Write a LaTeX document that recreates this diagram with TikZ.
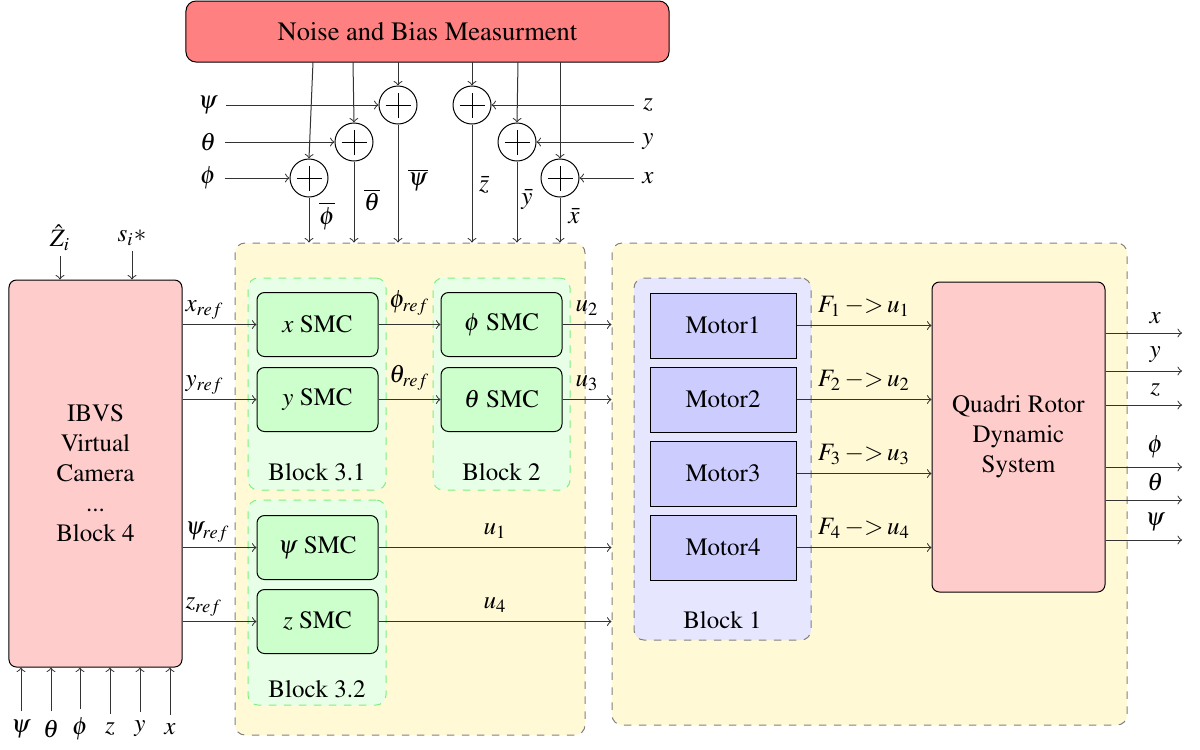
\documentclass[tikz,border=0pt]{standalone}
\usepackage[T1]{fontenc}
\usepackage{mathptmx}
\usetikzlibrary{calc}
\definecolor{bgyel}{RGB}{255,249,214}
\definecolor{noisered}{RGB}{255,128,128}
\definecolor{pinkbox}{RGB}{255,204,204}
\definecolor{smcgreen}{RGB}{204,255,204}
\definecolor{greenbg}{RGB}{230,255,230}
\definecolor{greenborder}{RGB}{128,240,128}
\definecolor{bluebg}{RGB}{230,230,255}
\definecolor{motorblue}{RGB}{204,204,255}
\tikzset{
  smc/.style={draw, rounded corners=3pt, fill=smcgreen, minimum width=48.4pt, minimum height=25.6pt, inner sep=0pt},
  motor/.style={draw, fill=motorblue, minimum width=58.4pt, minimum height=26pt, inner sep=0pt},
  sumc/.style={draw, circle, minimum size=15.2pt, inner sep=0pt,
    path picture={
      \draw ([xshift=-5pt]path picture bounding box.center) -- ([xshift=5pt]path picture bounding box.center);
      \draw ([yshift=-5pt]path picture bounding box.center) -- ([yshift=5pt]path picture bounding box.center);}},
  bgyellow/.style={draw=gray, dashed, fill=bgyel, rounded corners=4pt, inner sep=0pt},
  greenbox/.style={draw=greenborder, dashed, fill=greenbg, rounded corners=4pt, inner sep=0pt},
  bluebox/.style={draw=gray, dashed, fill=bluebg, rounded corners=4pt, inner sep=0pt},
  bigbox/.style={draw, fill=pinkbox, rounded corners=3pt, align=center, inner sep=0pt},
  conn/.style={->, draw=black!80},
}
\begin{document}
\begin{tikzpicture}[x=0.4pt,y=-0.4pt,>=to]
\useasboundingbox (0,0) rectangle (1200,749);

% background containers
\node[bgyellow, minimum width=140pt, minimum height=196.8pt] (yel1) at (410,489) {};
\node[bgyellow, minimum width=206pt, minimum height=192.8pt] (yel2) at (869.5,484) {};
\node[greenbox, minimum width=55.2pt, minimum height=84.8pt] (b31) at (317,384) {};
\node[greenbox, minimum width=54.8pt, minimum height=84.8pt] (b2) at (501.5,384) {};
\node[greenbox, minimum width=55.2pt, minimum height=82pt] (b32) at (317,602.5) {};
\node[bluebox, minimum width=70.8pt, minimum height=144.8pt] (b1) at (722.5,459) {};
\node (lb31) at (317,472) {Block 3.1};
\node (lb2) at (501.5,472) {Block 2};
\node (lb32) at (317,689) {Block 3.2};
\node (lb1) at (722.5,620) {Block 1};

% noise block
\node[draw, fill=noisered, rounded corners=4pt, minimum width=193.2pt, minimum height=24.4pt, font=\fontsize{10.6}{13}\selectfont] (noise) at (427.5,31.5) {Noise and Bias Measurment};
\coordinate (n1) at (313,62);
\coordinate (n2) at (353,62);
\coordinate (n3) at (398,62);
\coordinate (n4) at (472,62);
\coordinate (n5) at (518,62);
\coordinate (n6) at (560,62);

% summing junctions
\node[sumc] (cpsi) at (398,105) {};
\node[sumc] (cth) at (354,142) {};
\node[sumc] (cphi) at (309,178) {};
\node[sumc] (cz) at (472,105) {};
\node[sumc] (cy) at (517,142) {};
\node[sumc] (cx) at (560,178) {};

\node (lpsi) at (208,105) {$\psi$};
\node (lth) at (208,142) {$\theta$};
\node (lphi) at (208,178) {$\phi$};
\node (rz) at (648,105) {$z$};
\node (ry) at (648,142) {$y$};
\node (rx) at (648,178) {$x$};

\draw[conn] (n1) -- (cphi.north);
\draw[conn] (n2) -- (cth.north);
\draw[conn] (n3) -- (cpsi.north);
\draw[conn] (n4) -- (cz.north);
\draw[conn] (n5) -- (cy.north);
\draw[conn] (n6) -- (cx.north);

\draw[conn] (lpsi.east) -- (cpsi.west);
\draw[conn] (lth.east) -- (cth.west);
\draw[conn] (lphi.east) -- (cphi.west);
\draw[conn] (rz.west) -- (cz.east);
\draw[conn] (ry.west) -- (cy.east);
\draw[conn] (rx.west) -- (cx.east);

\draw[conn] (cphi.south) -- (cphi.south |- yel1.north);
\draw[conn] (cth.south) -- (cth.south |- yel1.north);
\draw[conn] (cpsi.south) -- (cpsi.south |- yel1.north);
\draw[conn] (cz.south) -- (cz.south |- yel1.north);
\draw[conn] (cy.south) -- (cy.south |- yel1.north);
\draw[conn] (cx.south) -- (cx.south |- yel1.north);

\node (bphi) at (327,216) {$\overline{\phi}$};
\node (bth) at (372,200) {$\overline{\theta}$};
\node (bpsi) at (418,180) {$\overline{\psi}$};
\node (bz) at (484,185) {$\bar{z}$};
\node (by) at (527,200) {$\bar{y}$};
\node (bx) at (574,216) {$\bar{x}$};

% IBVS block
\node[bigbox, minimum width=69.2pt, minimum height=154.8pt] (ibvs) at (95.5,473.5) {IBVS\\Virtual\\Camera\\...\\Block 4};
\node[inner sep=2pt] (zhat) at (60,238) {$\hat{Z}_i$};
\node[inner sep=2pt] (sstar) at (132,238) {$s_i{*}$};
\draw[conn] (zhat.south) -- (zhat.south |- ibvs.north);
\draw[conn] (sstar.south) -- (sstar.south |- ibvs.north);

\foreach \nm/\xx/\tx in {ipsi/21/\psi, ith/51/\theta, iphi/80/\phi, iz/110/z, iy/140/y, ix/170/x}{
  \node (\nm) at (\xx,729) {$\tx$};
  \draw[conn] (\nm.north) -- (\nm.north |- ibvs.south);
}

% SMC blocks
\node[smc] (xsmc) at (317.5,324.5) {$x$ SMC};
\node[smc] (ysmc) at (317.5,399.5) {$y$ SMC};
\node[smc] (phismc) at (501.5,324.5) {$\phi$ SMC};
\node[smc] (thsmc) at (501.5,399.5) {$\theta$ SMC};
\node[smc] (psismc) at (317.5,547.5) {$\psi$ SMC};
\node[smc] (zsmc) at (317.5,621.5) {$z$ SMC};

\draw[conn] (ibvs.east |- xsmc) -- node[pos=0, above right, inner sep=1pt, yshift=1pt] {$x_{ref}$} (xsmc.west);
\draw[conn] (ibvs.east |- ysmc) -- node[pos=0, above right, inner sep=1pt, yshift=1pt] {$y_{ref}$} (ysmc.west);
\draw[conn] (ibvs.east |- psismc) -- node[pos=0, above right, inner sep=1pt, yshift=1pt] {$\psi_{ref}$} (psismc.west);
\draw[conn] (ibvs.east |- zsmc) -- node[pos=0, above right, inner sep=1pt, yshift=1pt] {$z_{ref}$} (zsmc.west);

\draw[conn] (xsmc.east) -- node[above] {$\phi_{ref}$} (phismc.west);
\draw[conn] (ysmc.east) -- node[above] {$\theta_{ref}$} (thsmc.west);

\draw[conn] (phismc.east) -- node[above] {$u_2$} (yel2.west |- phismc);
\draw[conn] (thsmc.east) -- node[above] {$u_3$} (yel2.west |- thsmc);
\draw[conn] (psismc.east) -- node[above] {$u_1$} (yel2.west |- psismc);
\draw[conn] (zsmc.east) -- node[above] {$u_4$} (yel2.west |- zsmc);

% motors
\node[motor] (m1) at (723,325.5) {Motor1};
\node[motor] (m2) at (723,399.5) {Motor2};
\node[motor] (m3) at (723,473.5) {Motor3};
\node[motor] (m4) at (723,547.5) {Motor4};

\node[bigbox, minimum width=69.2pt, minimum height=124pt] (quad) at (1018.5,437) {Quadri Rotor\\Dynamic\\System};

\draw[conn] (m1.east) -- node[above] {$F_1\:{-}{>}\:u_1$} (quad.west |- m1);
\draw[conn] (m2.east) -- node[above] {$F_2\:{-}{>}\:u_2$} (quad.west |- m2);
\draw[conn] (m3.east) -- node[above] {$F_3\:{-}{>}\:u_3$} (quad.west |- m3);
\draw[conn] (m4.east) -- node[above] {$F_4\:{-}{>}\:u_4$} (quad.west |- m4);

% outputs
\foreach \nm/\yy/\tx in {ox/333/x, oy/371/y, oz/405/z, ophi/467/\phi, oth/500/\theta, opsi/540/\psi}{
  \coordinate (\nm) at (1182,\yy);
  \draw[conn] (quad.east |- \nm) -- node[pos=0.65, above] {$\tx$} (\nm);
}
\end{tikzpicture}
\end{document}
